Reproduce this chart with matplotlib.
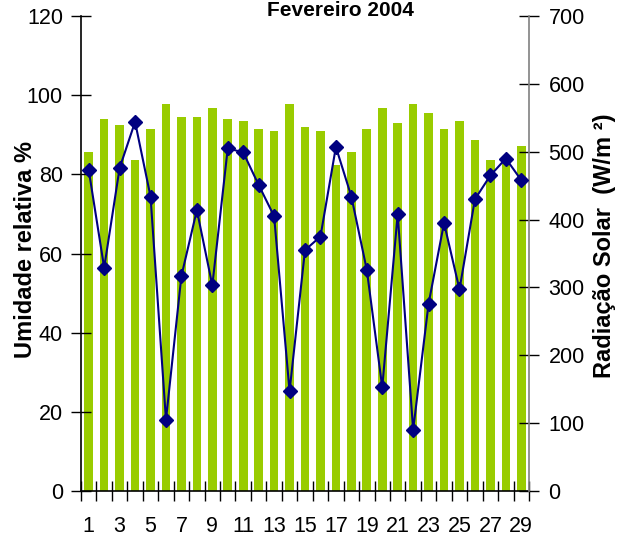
import numpy as np
import matplotlib
matplotlib.use("Agg")
import matplotlib.pyplot as plt

plt.rcParams["font.family"] = ["Liberation Sans", "DejaVu Sans"]

# Dados - Fevereiro 2004
dias = list(range(1, 30))
umidade = [85.6, 94.0, 92.5, 83.7, 91.5, 97.8, 94.4, 94.4, 96.8, 94.0,
           93.5, 91.5, 91.0, 97.8, 92.0, 91.0, 82.4, 85.6, 91.5, 96.8,
           93.0, 97.8, 95.4, 91.5, 93.5, 88.6, 83.7, 84.0, 87.2]
radiacao = [473, 329, 476, 544, 434, 105, 317, 414, 303, 505,
            499, 451, 405, 147, 355, 375, 507, 434, 326, 153,
            408, 90, 276, 395, 297, 430, 465, 490, 458]
rotulos_x = [str(d) if d % 2 == 1 else "" for d in dias]

fig = plt.figure(figsize=(6.32, 5.37), dpi=100)
ax = fig.add_axes([81 / 632, 46 / 537, 448 / 632, 475 / 537])
pos = np.arange(len(dias))

ax.bar(pos, umidade, width=0.56, color="#99CC00", zorder=1)
ax.set_xlim(-0.5, len(dias) - 0.5)
ax.set_ylim(0, 120)
ax.set_yticks(range(0, 121, 20))

# rótulos no centro, marcas entre as categorias
ax.set_xticks(pos)
ax.set_xticklabels(rotulos_x)
ax.set_xticks(np.arange(-0.5, len(dias)), minor=True)
ax.tick_params(axis="x", which="major", length=0, pad=18, labelsize=15.5)
ax.tick_params(axis="x", which="minor", direction="inout", length=14, width=1)
ax.tick_params(axis="y", direction="inout", length=14, width=1, pad=6, labelsize=15.5)

ax2 = ax.twinx()
ax2.plot(pos, radiacao, color="#000080", lw=1.5, marker="D", markersize=7.5,
         markerfacecolor="#000080", markeredgecolor="#000080", zorder=3)
ax2.set_ylim(0, 700)
ax2.set_yticks(range(0, 701, 100))
ax2.tick_params(axis="y", direction="inout", length=14, width=1, pad=7, labelsize=15.5)

for a in (ax, ax2):
    a.spines["top"].set_visible(False)
ax2.spines["left"].set_visible(False)
ax2.spines["bottom"].set_visible(False)
ax.spines["right"].set_visible(False)
ax2.spines["right"].set_color("#808080")
ax2.spines["right"].set_linewidth(1.2)
ax.spines["left"].set_linewidth(1.2)
ax.spines["bottom"].set_linewidth(1.2)

fig.text(340 / 632, 1 - 11 / 537, "Fevereiro 2004", ha="center", va="center",
         fontsize=15, fontweight="bold")
fig.text(26 / 632, 1 - 249 / 537, "Umidade relativa %", rotation=90,
         ha="center", va="center", fontsize=17, fontweight="bold")
fig.text(604 / 632, 1 - 246 / 537, "Radiação Solar  (W/m ²)", rotation=90,
         ha="center", va="center", fontsize=17, fontweight="bold")

fig.savefig("out.png", dpi=100)
